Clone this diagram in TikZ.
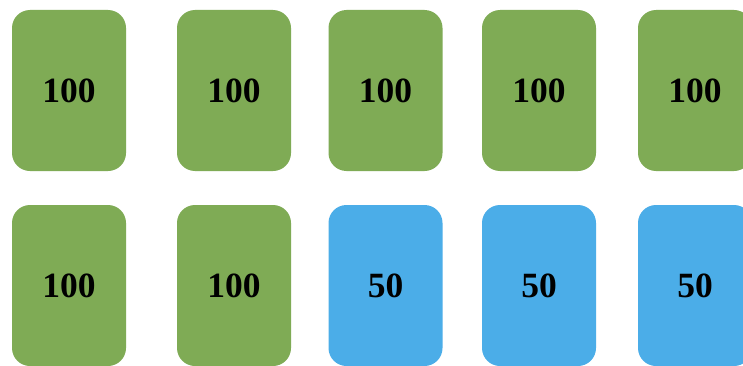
\documentclass[tikz,border=0pt]{standalone}
\usepackage{fontspec}
\setmainfont{Liberation Serif}
\usepackage{xcolor}
\usepackage{tikz}
\definecolor{leafgreen}{HTML}{7FAB55}
\definecolor{skyblue}{HTML}{4BADE8}
\tikzset{
  card/.style={rounded corners=18pt,minimum width=114pt,minimum height=161pt,
    inner sep=0pt,font=\fontsize{35.5}{36}\selectfont\bfseries},
  greencard/.style={card,fill=leafgreen},
  bluecard/.style={card,fill=skyblue}
}

\begin{document}
\begin{tikzpicture}[x=1pt,y=1pt]
  \clip (0,0) rectangle (743,365);
  \fill[white] (0,0) rectangle (743,365);
  % top row
  \node[greencard] (top1) at (69,274.5) {100};
  \node[greencard] (top2) at (234,274.5) {100};
  \node[greencard] (top3) at (385.5,274.5) {100};
  \node[greencard] (top4) at (539,274.5) {100};
  \node[greencard] (top5) at (695,274.5) {100};
  % bottom row
  \node[greencard] (bot1) at (69,79.5) {100};
  \node[greencard] (bot2) at (234,79.5) {100};
  \node[bluecard] (bot3) at (385.5,79.5) {50};
  \node[bluecard] (bot4) at (539,79.5) {50};
  \node[bluecard] (bot5) at (695,79.5) {50};
\end{tikzpicture}
\end{document}
